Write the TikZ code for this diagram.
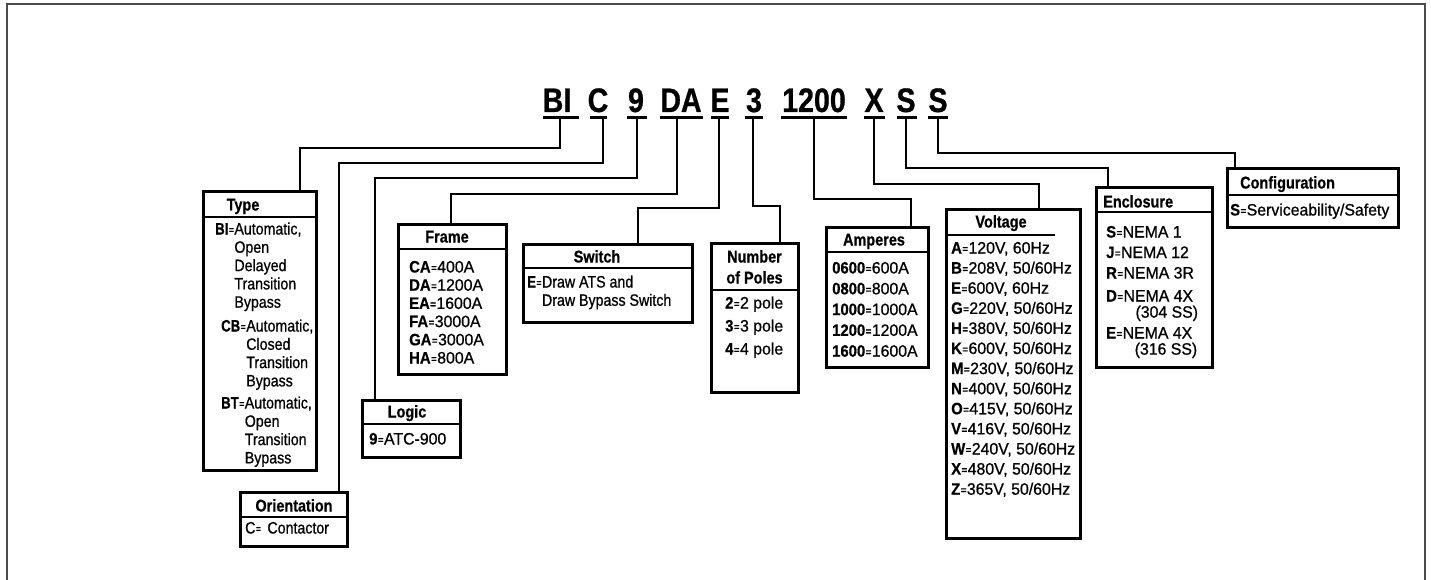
\documentclass[tikz,border=0pt]{standalone}
\usepackage{fontspec}
\setmainfont{Liberation Sans}[FakeStretch=0.86,FakeBold=0.8]
\newfontfamily\numfam{Liberation Sans}[FakeStretch=0.96,FakeBold=0.8]
\newfontfamily\hdrfam{Liberation Sans}[FakeStretch=0.85,FakeBold=0.6]
\newfontfamily\codefam{Liberation Sans}[FakeStretch=0.84,FakeBold=0.8]
\newfontfamily\cbfam{Liberation Sans}[FakeStretch=0.8,FakeBold=0.6]
\newfontfamily\cbwfam{Liberation Sans}[FakeStretch=0.9,FakeBold=0.6]
\newcommand\cb[1]{{\cbfam\bfseries #1}}
\newcommand\cbw[1]{{\cbwfam\bfseries #1}}
\newcommand\eqs{\kern0.5pt\raisebox{1.2pt}{\fontsize{10}{10}\selectfont\bfseries=}\kern0.5pt}
\begin{document}
\begin{tikzpicture}[x=1pt,y=-1pt,
  box/.style={draw, line width=3pt, anchor=north west, inner sep=0pt, outer sep=0pt},
  wire/.style={line width=2.7pt},
  sepl/.style={line width=2.2pt},
  ulin/.style={line width=3pt},
  hdr/.style={font=\hdrfam\bfseries\fontsize{17}{21}\selectfont, inner sep=0pt, anchor=base},
  hdrl/.style={hdr, anchor=base west},
  body/.style={font=\fontsize{16.5}{18.3}\selectfont, inner sep=0pt, anchor=base west},
  nbody/.style={body, font=\numfam\fontsize{16.5}{#1}\selectfont},
  code/.style={font=\codefam\bfseries\fontsize{34}{36}\selectfont, inner sep=0pt, anchor=base},
  frameline/.style={draw=black!70, line width=2pt}
]
\useasboundingbox (0,0) rectangle (1431,580);
\draw[frameline] (7,590) -- (7,4) -- (1425,4) -- (1425,590);

% ---- code letters ----
\node[code] (cBI) at (557,112) {BI};
\node[code] (cC) at (598,112) {C};
\node[code] (c9) at (636,112) {9};
\node[code] (cDA) at (681,112) {DA};
\node[code] (cE) at (720,112) {E};
\node[code] (c3) at (754,112) {3};
\node[code] (c1200) at (814,112) {1200};
\node[code] (cX) at (874,112) {X};
\node[code] (cS1) at (906,112) {S};
\node[code] (cS2) at (938,112) {S};

\draw[ulin] (543,118) -- (579,118);
\draw[ulin] (590,118) -- (607,118);
\draw[ulin] (627,118) -- (647,118);
\draw[ulin] (660,118) -- (703,118);
\draw[ulin] (711,118) -- (729,118);
\draw[ulin] (745,118) -- (763,118);
\draw[ulin] (781,118) -- (847,118);
\draw[ulin] (864,118) -- (885,118);
\draw[ulin] (897,118) -- (917,118);
\draw[ulin] (928,118) -- (948,118);

\coordinate (sBI) at (560,118);
\coordinate (sC) at (603,118);
\coordinate (s9) at (637,118);
\coordinate (sDA) at (677,118);
\coordinate (sE) at (719,118);
\coordinate (s3) at (753,118);
\coordinate (s1200) at (814,118);
\coordinate (sX) at (874,118);
\coordinate (sS1) at (906,118);
\coordinate (sS2) at (938,118);

% ---- boxes ----
\node[box, minimum width=113pt, minimum height=278pt] (type) at (203,192) {};
\node[box, minimum width=107pt, minimum height=54pt] (orient) at (240,492) {};
\node[box, minimum width=98pt, minimum height=57pt] (logic) at (362,400) {};
\node[box, minimum width=108pt, minimum height=150pt] (frame) at (398,224) {};
\node[box, minimum width=169pt, minimum height=78pt] (switch) at (523,244) {};
\node[box, minimum width=87pt, minimum height=149pt] (poles) at (711,243) {};
\node[box, minimum width=102pt, minimum height=140pt] (amps) at (826,227) {};
\node[box, minimum width=134pt, minimum height=329pt] (volt) at (946,209) {};
\node[box, minimum width=116pt, minimum height=179pt] (encl) at (1096,188) {};
\node[box, minimum width=171pt, minimum height=58pt] (config) at (1227,169) {};

% header separators
\draw[sepl] (type.west |- 0,217) -- (type.east |- 0,217);
\draw[sepl] (orient.west |- 0,517) -- (orient.east |- 0,517);
\draw[sepl] (logic.west |- 0,424) -- (logic.east |- 0,424);
\draw[sepl] (frame.west |- 0,249) -- (frame.east |- 0,249);
\draw[sepl] (switch.west |- 0,268) -- (switch.east |- 0,268);
\draw[sepl] (poles.west |- 0,290) -- (poles.east |- 0,290);
\draw[sepl] (amps.west |- 0,252) -- (amps.east |- 0,252);
\draw[sepl] (volt.west |- 0,235) -- (1055,235);
\draw[sepl] (encl.west |- 0,212) -- (encl.east |- 0,212);
\draw[sepl] (config.west |- 0,195) -- (config.east |- 0,195);

% ---- connectors ----
\draw[wire] (sBI) |- (300,148) -- (type.north -| 300,0);
\draw[wire] (sC) |- (339,163) -- (orient.north -| 339,0);
\draw[wire] (s9) |- (375,178) -- (logic.north -| 375,0);
\draw[wire] (sDA) |- (451,194) -- (frame.north -| 451,0);
\draw[wire] (sE) |- (638,208) -- (switch.north -| 638,0);
\draw[wire] (s3) |- (780,206) -- (poles.north -| 780,0);
\draw[wire] (s1200) |- (911,199) -- (amps.north -| 911,0);
\draw[wire] (sX) |- (1039,184) -- (volt.north -| 1039,0);
\draw[wire] (sS1) |- (1108,168) -- (encl.north -| 1108,0);
\draw[wire] (sS2) |- (1235,153) -- (config.north -| 1235,0);

% ---- headers ----
\node[hdr] (hType) at (243,210.5) {Type};
\node[hdr] (hOrient) at (294,511.5) {Orientation};
\node[hdr] (hLogic) at (407,417.5) {Logic};
\node[hdr] (hFrame) at (447,242.5) {Frame};
\node[hdr] (hSwitch) at (597,262.5) {Switch};
\node[hdr] (hPoles) at (754.5,262.5) {\begin{tabular}[t]{@{}c@{}}Number\\of Poles\end{tabular}};
\node[hdr] (hAmps) at (874,245.5) {Amperes};
\node[hdr] (hVolt) at (1001,227.5) {Voltage};
\node[hdrl] (hEncl) at (1103,207.5) {Enclosure};
\node[hdrl] (hConfig) at (1240,188.5) {Configuration};

% ---- bodies ----
\node[body] (eBI) at (215,234.5) {\begin{tabular}[t]{@{}r@{}l@{}}\cb{BI}\eqs & Automatic,\\ & Open\\ & Delayed\\ & Transition\\ & Bypass\end{tabular}};
\node[body] (eCB) at (221,331.5) {\begin{tabular}[t]{@{}r@{}l@{}}\cb{CB}\eqs & Automatic,\\ & Closed\\ & Transition\\ & Bypass\end{tabular}};
\node[body] (eBT) at (221,408.5) {\begin{tabular}[t]{@{}r@{}l@{}}\cb{BT}\eqs & Automatic,\\ & Open\\ & Transition\\ & Bypass\end{tabular}};

\node[body] (eOrient) at (245,533.5) {C\eqs\hspace{6pt}Contactor};
\node[nbody=18.3] (eLogic) at (369,444.5) {\cbw{9}\eqs ATC-900};

\node[nbody=18.2] (eFrame) at (409,272.5) {\begin{tabular}[t]{@{}l@{}}\cbw{CA}\eqs 400A\\ \cbw{DA}\eqs 1200A\\ \cbw{EA}\eqs 1600A\\ \cbw{FA}\eqs 3000A\\ \cbw{GA}\eqs 3000A\\ \cbw{HA}\eqs 800A\end{tabular}};

\node[body] (eSwitch) at (527,287.5) {\begin{tabular}[t]{@{}r@{}l@{}}\cb{E}\eqs & Draw ATS and\\ & Draw Bypass Switch\end{tabular}};

\node[nbody=23] (ePoles) at (725,308.5) {\begin{tabular}[t]{@{}l@{}}\cbw{2}\eqs 2 pole\\ \cbw{3}\eqs 3 pole\\ \cbw{4}\eqs 4 pole\end{tabular}};

\node[nbody=20.8] (eAmps) at (832,273.5) {\begin{tabular}[t]{@{}l@{}}\cbw{0600}\eqs 600A\\ \cbw{0800}\eqs 800A\\ \cbw{1000}\eqs 1000A\\ \cbw{1200}\eqs 1200A\\ \cbw{1600}\eqs 1600A\end{tabular}};

\node[nbody=20.1] (eVolt) at (951,253.5) {\begin{tabular}[t]{@{}l@{}}\cbw{A}\eqs 120V, 60Hz\\ \cbw{B}\eqs 208V, 50/60Hz\\ \cbw{E}\eqs 600V, 60Hz\\ \cbw{G}\eqs 220V, 50/60Hz\\ \cbw{H}\eqs 380V, 50/60Hz\\ \cbw{K}\eqs 600V, 50/60Hz\\ \cbw{M}\eqs 230V, 50/60Hz\\ \cbw{N}\eqs 400V, 50/60Hz\\ \cbw{O}\eqs 415V, 50/60Hz\\ \cbw{V}\eqs 416V, 50/60Hz\\ \cbw{W}\eqs 240V, 50/60Hz\\ \cbw{X}\eqs 480V, 50/60Hz\\ \cbw{Z}\eqs 365V, 50/60Hz\end{tabular}};

\node[nbody=20.5] (eEncl) at (1106,237.5) {\begin{tabular}[t]{@{}l@{}}\cbw{S}\eqs NEMA 1\\ \cbw{J}\eqs NEMA 12\\ \cbw{R}\eqs NEMA 3R\end{tabular}};
\node[nbody=14] (eEnclD) at (1106,301.5) {\begin{tabular}[t]{@{}r@{}l@{}}\cbw{D}\eqs & NEMA 4X\\ & \hspace{12pt}(304 SS)\end{tabular}};
\node[nbody=14] (eEnclE) at (1106,338.5) {\begin{tabular}[t]{@{}r@{}l@{}}\cbw{E}\eqs & NEMA 4X\\ & \hspace{12pt}(316 SS)\end{tabular}};

\node[nbody=18.3] (eConfig) at (1230,215.5) {\cbw{S}\eqs Serviceability/Safety};
\end{tikzpicture}
\end{document}
